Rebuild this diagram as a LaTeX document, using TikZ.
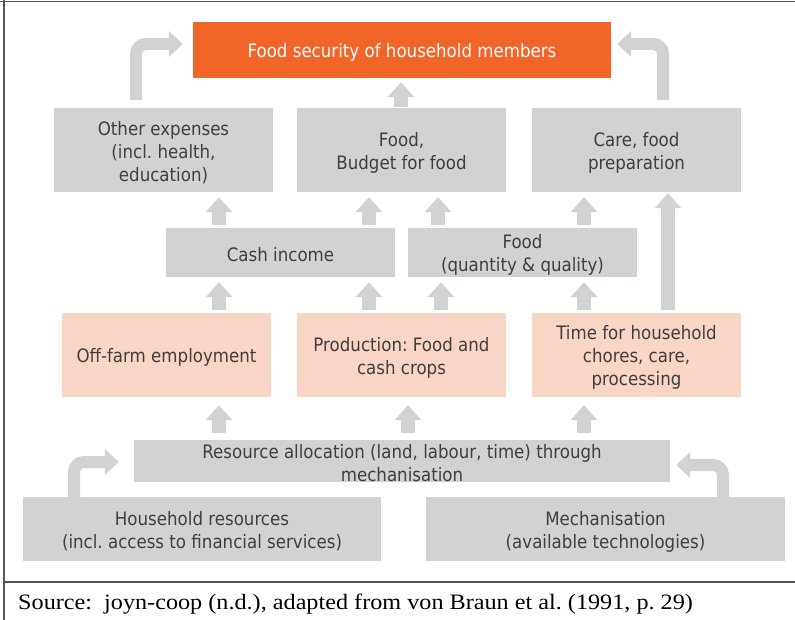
\documentclass[tikz,border=0pt]{standalone}
\usepackage{fontspec}
\setmainfont{DejaVu Sans}[FakeStretch=0.9]
\newfontfamily\srcfont{Liberation Serif}[FakeStretch=1.1]
\usetikzlibrary{arrows.meta}
\definecolor{boxgray}{HTML}{D1D2D4}
\definecolor{salmonc}{HTML}{F9D5C5}
\definecolor{orangec}{HTML}{F26529}
\definecolor{txtc}{HTML}{3F3F3F}
\definecolor{framec}{HTML}{555555}
\frenchspacing
\begin{document}
\begin{tikzpicture}[x=1pt,y=-1pt,
  box/.style={fill=boxgray, inner sep=0pt},
  pbox/.style={box, fill=salmonc},
  lbl/.style={inner sep=0pt, text=txtc, align=center, yshift=-2.5pt,
    font=\fontsize{18.5}{23}\selectfont\frenchspacing},
  uparrow/.style={draw=boxgray, line width=14pt, -{Triangle[width=26pt,length=15pt]}},
  bent/.style={draw=boxgray, line width=12pt, rounded corners=10pt, -{Triangle[width=25pt,length=14pt]}},
  framel/.style={draw=framec, line width=1.3pt}]
\useasboundingbox (0,0) rectangle (795,620);
\fill[white] (0,0) rectangle (795,620);
% frame
\draw[framel] (4,0) -- (4,620);
\draw[framel] (0,1.5) -- (795,1.5);
\draw[framel] (4,582) -- (795,582);
% boxes
\node[box, fill=orangec, minimum width=418pt, minimum height=56pt] (orange) at (402,50) {};
\node[box, minimum width=219pt, minimum height=84pt] (other) at (163.5,150) {};
\node[box, minimum width=209pt, minimum height=84pt] (budget) at (401.5,150) {};
\node[box, minimum width=209pt, minimum height=84pt] (care) at (636.5,150) {};
\node[box, minimum width=229pt, minimum height=49pt] (cash) at (280.5,252.5) {};
\node[box, minimum width=229pt, minimum height=49pt] (foodq) at (522.5,252.5) {};
\node[pbox, minimum width=209pt, minimum height=84pt] (offfarm) at (166.5,355) {};
\node[pbox, minimum width=209pt, minimum height=84pt] (prod) at (401.5,355) {};
\node[pbox, minimum width=209pt, minimum height=84pt] (time) at (636.5,355) {};
\node[box, minimum width=536pt, minimum height=42pt] (resource) at (402,461) {};
\node[box, minimum width=358pt, minimum height=64pt] (house) at (202,529) {};
\node[box, minimum width=359pt, minimum height=64pt] (mech) at (605.5,529) {};
% texts
\node[lbl, text=white] (orangeT) at (orange.center) {Food security of household members};
\node[lbl] (otherT) at (other.center) {Other expenses\\(incl. health,\\education)};
\node[lbl] (budgetT) at (budget.center) {Food,\\Budget for food};
\node[lbl] (careT) at (care.center) {Care, food\\preparation};
\node[lbl] (cashT) at (cash.center) {Cash income};
\node[lbl] (foodqT) at (foodq.center) {Food\\(quantity \& quality)};
\node[lbl] (offfarmT) at (offfarm.center) {Off-farm employment};
\node[lbl] (prodT) at (prod.center) {Production: Food and\\cash crops};
\node[lbl] (timeT) at (time.center) {Time for household\\chores, care,\\processing};
\node[lbl] (resourceT) at (resource.center) {Resource allocation (land, labour, time) through\\mechanisation};
\node[lbl] (houseT) at (house.center) {Household resources\\(incl. access to financial services)};
\node[lbl] (mechT) at (mech.center) {Mechanisation\\(available technologies)};
% columns
\coordinate (c1) at (219,0);
\coordinate (c2) at (369,0);
\coordinate (c3) at (438,0);
\coordinate (c3b) at (441,0);
\coordinate (c4) at (584,0);
\coordinate (c5) at (408,0);
\coordinate (c6) at (668,0);
\coordinate (c7) at (401,0);
% straight arrows
\draw[uparrow, shorten <=3pt, shorten >=5pt] (cash.north -| c1) -- (other.south -| c1);
\draw[uparrow, shorten <=3pt, shorten >=5pt] (cash.north -| c2) -- (budget.south -| c2);
\draw[uparrow, shorten <=3pt, shorten >=5pt] (foodq.north -| c3) -- (budget.south -| c3);
\draw[uparrow, shorten <=3pt, shorten >=5pt] (foodq.north -| c4) -- (care.south -| c4);
\draw[uparrow, shorten <=3pt, shorten >=5pt] (offfarm.north -| c1) -- (cash.south -| c1);
\draw[uparrow, shorten <=3pt, shorten >=5pt] (prod.north -| c2) -- (cash.south -| c2);
\draw[uparrow, shorten <=3pt, shorten >=5pt] (prod.north -| c3b) -- (foodq.south -| c3b);
\draw[uparrow, shorten <=3pt, shorten >=5pt] (time.north -| c4) -- (foodq.south -| c4);
\draw[uparrow, shorten <=7pt, shorten >=8pt] (resource.north -| c1) -- (offfarm.south -| c1);
\draw[uparrow, shorten <=7pt, shorten >=8pt] (resource.north -| c5) -- (prod.south -| c5);
\draw[uparrow, shorten <=7pt, shorten >=8pt] (resource.north -| c4) -- (time.south -| c4);
\draw[uparrow, shorten <=3pt, shorten >=1pt] (time.north -| c6) -- (care.south -| c6);
\draw[uparrow, shorten <=1pt, shorten >=4pt] (budget.north -| c7) -- (orange.south -| c7);
% bent arrows
\coordinate (b1) at (136,0);
\coordinate (b2) at (663,0);
\coordinate (b3) at (74,0);
\coordinate (b4) at (723,0);
\coordinate (h1) at (0,44);
\coordinate (h3) at (0,462);
\coordinate (h4) at (0,465);
\draw[bent, shorten <=8pt, shorten >=10pt] (other.north -| b1) |- (orange.west |- h1);
\draw[bent, shorten <=8pt, shorten >=6pt] (care.north -| b2) |- (orange.east |- h1);
\draw[bent, shorten >=15pt] (house.north -| b3) |- (resource.west |- h3);
\draw[bent, shorten >=6pt] (mech.north -| b4) |- (resource.east |- h4);
% source
\node[anchor=base west, inner sep=0pt, font=\srcfont\fontsize{22}{22}\selectfont] (src) at (18,609) {Source:~~joyn-coop (n.d.), adapted from von Braun et al. (1991, p. 29)};
\end{tikzpicture}
\end{document}
